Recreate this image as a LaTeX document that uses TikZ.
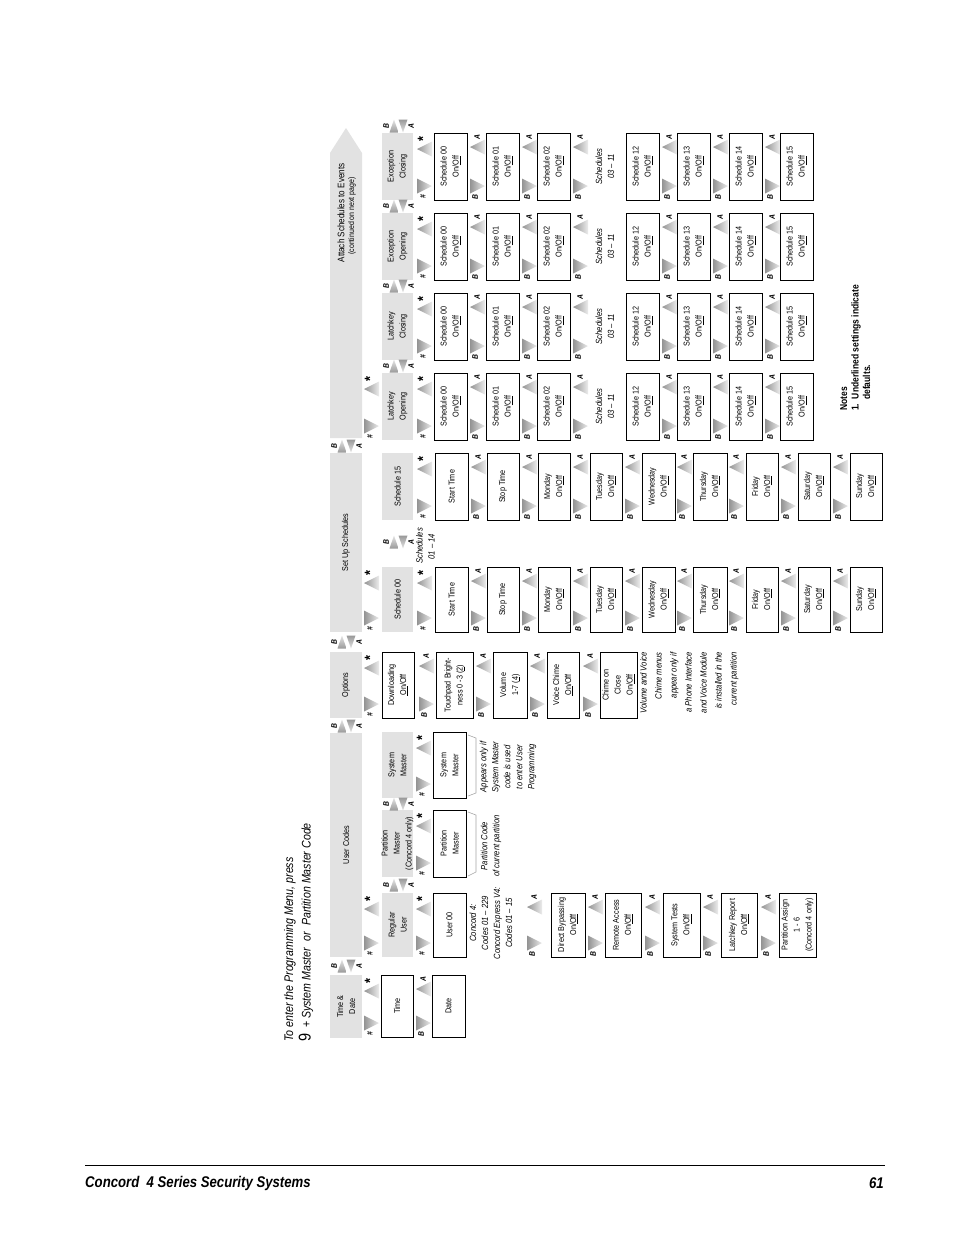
\documentclass[tikz,border=0pt]{standalone}
\usepackage{fontspec}
\setmainfont{Liberation Sans}[FakeStretch=0.85]
\usetikzlibrary{fit}
\definecolor{bandc}{HTML}{E2E2E2}
\tikzset{
  bandst/.style={fill=bandc, draw=none, inner sep=0pt},
  boxst/.style={draw=black, line width=0.9pt, fill=white, inner sep=0pt},
  lbl/.style={rotate=90, align=center, inner sep=0pt, font=\fontsize{8.5}{12}\selectfont},
  itl/.style={rotate=90, inner sep=0pt, font=\fontsize{9}{12}\selectfont\itshape},
  keyl/.style={rotate=90, inner sep=0pt, font=\fontsize{8}{8}\selectfont\bfseries\itshape},
  starl/.style={rotate=90, inner sep=0pt, font=\fontsize{15}{15}\selectfont\bfseries},
  brk/.style={draw=gray!70, line width=0.6pt},
}
\newcommand\MyBox[6]{\node[boxst, fit={(#2,#3)(#4,#5)}] (#1) {};\node[lbl] (#1t) at (#1.center) {#6};}
\newcommand\MyBand[6]{\node[bandst, fit={(#2,#3)(#4,#5)}] (#1) {};\node[lbl] (#1t) at (#1.center) {#6};}
\newcommand\TriR[2]{\shade[left color=gray!85, right color=gray!15] (#1,#2-7.5) -- (#1+15,#2) -- (#1,#2+7.5) -- cycle;}
\newcommand\TriL[2]{\shade[left color=gray!85, right color=gray!15] (#1,#2) -- (#1+15,#2-7.5) -- (#1+15,#2+7.5) -- cycle;}
\newcommand\Pair[4]{\TriL{#2}{#3+14}\node[keyl] (#1a) at (#2+7,#3+4) {A};\TriR{#2}{#4-14}\node[keyl] (#1b) at (#2+5,#4-3) {B};}
\newcommand\Enter[4]{\TriL{#2}{#3+16}\node[starl] (#1s) at (#2+6,#3+6) {*};\TriR{#2}{#4-14}\node[keyl] (#1h) at (#2+6,#4-3) {\#};}
\newcommand\HPair[3]{%
  \node[keyl] (#1b) at (#2+4,#3) {B};
  \shade[top color=gray!20, bottom color=gray!80] (#2+7.5,#3+6.5) -- (#2+12,#3-6.5) -- (#2+16.5,#3+6.5) -- cycle;
  \shade[top color=gray!80, bottom color=gray!20] (#2+16.5,#3-6.5) -- (#2+25.5,#3-6.5) -- (#2+21,#3+6.5) -- cycle;
  \node[keyl] (#1a) at (#2+29,#3) {A};}
\newcommand\DayCol[3]{%
  \Enter{#1e}{417}{#2}{#3}
  \MyBox{#1r1}{435}{#2}{468}{#3}{Start Time}
  \Pair{#1p1}{471}{#2}{#3}
  \MyBox{#1r2}{487}{#2}{519}{#3}{Stop Time}
  \Pair{#1p2}{522}{#2}{#3}
  \MyBox{#1r3}{538}{#2}{570}{#3}{Monday\\On/\underline{Off}}
  \Pair{#1p3}{573}{#2}{#3}
  \MyBox{#1r4}{590}{#2}{622}{#3}{Tuesday\\On/\underline{Off}}
  \Pair{#1p4}{625}{#2}{#3}
  \MyBox{#1r5}{642}{#2}{675}{#3}{Wednesday\\On/\underline{Off}}
  \Pair{#1p5}{677}{#2}{#3}
  \MyBox{#1r6}{693}{#2}{727}{#3}{Thursday\\On/\underline{Off}}
  \Pair{#1p6}{729}{#2}{#3}
  \MyBox{#1r7}{746}{#2}{778}{#3}{Friday\\On/\underline{Off}}
  \Pair{#1p7}{781}{#2}{#3}
  \MyBox{#1r8}{798}{#2}{830}{#3}{Saturday\\On/\underline{Off}}
  \Pair{#1p8}{833}{#2}{#3}
  \MyBox{#1r9}{850}{#2}{882}{#3}{Sunday\\On/\underline{Off}}}
\newcommand\AttCol[3]{%
  \Enter{#1e}{417}{#2}{#3}
  \MyBox{#1r0}{434}{#2}{467}{#3}{Schedule 00\\On/\underline{Off}}
  \Pair{#1p1}{470}{#2}{#3}
  \MyBox{#1r1}{486}{#2}{519}{#3}{Schedule 01\\On/\underline{Off}}
  \Pair{#1p2}{522}{#2}{#3}
  \MyBox{#1r2}{537}{#2}{570}{#3}{Schedule 02\\On/\underline{Off}}
  \Pair{#1p3}{573}{#2}{#3}
  \node[itl, align=center] (#1tx) at (605,{(#2+#3)/2}) {Schedules\\03 -- 11};
  \MyBox{#1r12}{626}{#2}{659}{#3}{Schedule 12\\On/\underline{Off}}
  \Pair{#1p4}{662}{#2}{#3}
  \MyBox{#1r13}{677}{#2}{710}{#3}{Schedule 13\\On/\underline{Off}}
  \Pair{#1p5}{713}{#2}{#3}
  \MyBox{#1r14}{729}{#2}{762}{#3}{Schedule 14\\On/\underline{Off}}
  \Pair{#1p6}{765}{#2}{#3}
  \MyBox{#1r15}{780}{#2}{813}{#3}{Schedule 15\\On/\underline{Off}}}
\begin{document}
\begin{tikzpicture}[x=1pt, y=-1pt]
\useasboundingbox (0,0) rectangle (954,1235);
\fill[white] (0,0) rectangle (954,1235);

% intro text
\node[rotate=90, anchor=west, inner sep=0pt, font=\fontsize{12.5}{14}\selectfont\itshape] (intro1) at (290,1042) {To enter the Programming Menu, press};
\node[rotate=90, anchor=west, inner sep=0pt, font=\fontsize{12.5}{14}\selectfont] (intro2) at (306,1042) {{\fontsize{17}{17}\selectfont 9}\ \ +\ \textit{System Master}\ \ \textit{or}\ \ \textit{Partition Master Code}};

% header bands
\MyBand{hTD}{330}{975}{362}{1038}{Time \&\\Date}
\MyBand{hUC}{330}{733}{362}{957}{User Codes}
\MyBand{hOP}{330}{652}{362}{718}{Options}
\MyBand{hSS}{330}{453}{362}{632}{Set Up Schedules}
\path[fill=bandc] (330,438) -- (330,153) -- (346,128) -- (362,153) -- (362,438) -- cycle;
\node[lbl, font=\fontsize{9.5}{11}\selectfont] (hATt) at (341,213) {Attach Schedules to Events};
\node[lbl, font=\fontsize{8.2}{9}\selectfont] (hATc) at (352,216) {(continued on next page)};
\HPair{hp1}{330}{966}
\HPair{hp2}{330}{726}
\HPair{hp3}{330}{642}
\HPair{hp4}{330}{446}

% header -> first item
\Enter{e1}{364}{975}{1037}
\Enter{e2}{364}{893}{957}
\Enter{e3}{364}{652}{718}
\Enter{e4}{364}{567}{632}
\Enter{e5}{364}{373}{440}

% Time & Date
\MyBox{bTime}{381}{975}{413}{1037}{Time}
\Pair{pTD}{416}{975}{1037}
\MyBox{bDate}{432}{975}{465}{1037}{Date}

% User codes sub bands
\MyBand{sRU}{382}{893}{413}{957}{Regular\\User}
\MyBand{sPM}{382}{810}{413}{877}{Partition\\Master\\(Concord 4 only)}
\MyBand{sSM}{382}{732}{413}{798}{System\\Master}
\HPair{sp1}{382}{885}
\HPair{sp2}{382}{804}

% Regular user column
\Enter{eRU}{416}{893}{957}
\MyBox{bU00}{433}{893}{466}{957}{User 00}
\node[itl, align=center] (cc) at (491,923) {Concord 4:\\Codes 01 -- 229\\Concord Express V4:\\Codes 01 -- 15};
\Pair{pRU1}{527}{893}{957}
\MyBox{bDB}{551}{893}{585}{957}{Direct Bypassing\\On/\underline{Off}}
\Pair{pRU2}{588}{893}{957}
\MyBox{bRA}{605}{893}{641}{957}{Remote Access\\On/\underline{Off}}
\Pair{pRU3}{645}{893}{957}
\MyBox{bST}{663}{893}{700}{957}{System Tests\\On/\underline{Off}}
\Pair{pRU4}{703}{893}{957}
\MyBox{bLR}{721}{893}{757}{957}{Latchkey Report\\On/\underline{Off}}
\Pair{pRU5}{761}{893}{957}
\MyBox{bPA}{779}{893}{816}{957}{Partition Assign\\1 - 6\\(Concord 4 only)}

% Partition master
\Enter{ePM}{416}{810}{877}
\MyBox{bPM}{433}{810}{466}{877}{Partition\\Master}
\draw[brk] (468,812) -- (476,815) -- (476,872) -- (468,876);
\node[itl, align=center] (pcn) at (491,846) {Partition Code\\of current partition};

% System master
\Enter{eSM}{416}{732}{798}
\MyBox{bSM}{433}{732}{466}{798}{System\\Master}
\draw[brk] (468,735) -- (476,738) -- (476,793) -- (468,796);
\node[itl, align=center] (smn) at (508,767) {Appears only if\\System Master\\code is used\\to enter User\\Programming};

% Options
\MyBox{bDL}{382}{652}{414}{718}{Downloading\\\underline{On}/Off}
\Pair{pOP1}{419}{652}{718}
\MyBox{bTB}{436}{652}{473}{718}{Touchpad Bright-\\ness 0 -3 (\underline{2})}
\Pair{pOP2}{476}{652}{718}
\MyBox{bVo}{493}{652}{527}{718}{Volume\\1-7 (\underline{4})}
\Pair{pOP3}{530}{652}{718}
\MyBox{bVC}{547}{652}{579}{718}{Voice Chime\\\underline{On}/Off}
\Pair{pOP4}{583}{652}{718}
\MyBox{bCC}{600}{652}{637}{718}{Chime on\\Close\\On/\underline{Off}}
\node[rotate=90, anchor=north east, align=right, inner sep=0pt, font=\fontsize{9}{15}\selectfont\itshape] (vn) at (640,652) {Volume and Voice\\Chime menus\\appear only if\\a Phone Interface\\and Voice Module\\is installed in the\\current partition};

% Set up schedules
\MyBand{s00}{382}{567}{413}{632}{Schedule 00}
\MyBand{s15}{382}{453}{413}{520}{Schedule 15}
\HPair{sp3}{382}{542}
\node[itl, align=left, anchor=north west] (s0114) at (416,564) {Schedules\\\ \ 01 -- 14};
\DayCol{da}{567}{632}
\DayCol{db}{453}{520}

% Attach schedules
\MyBand{sLO}{382}{373}{413}{440}{Latchkey\\Opening}
\MyBand{sLC}{382}{293}{413}{360}{Latchkey\\Closing}
\MyBand{sEO}{382}{213}{413}{280}{Exception\\Opening}
\MyBand{sEC}{382}{133}{413}{200}{Exception\\Closing}
\HPair{sp4}{382}{366}
\HPair{sp5}{382}{286}
\HPair{sp6}{382}{206}
\HPair{sp7}{382}{126}
\AttCol{lo}{373}{440}
\AttCol{lc}{293}{360}
\AttCol{eo}{213}{280}
\AttCol{ec}{133}{200}

% notes
\node[rotate=90, anchor=north west, align=left, inner sep=0pt, font=\fontsize{10}{11.5}\selectfont\bfseries] (notes) at (840,411) {Notes\\1.\ \ Underlined settings indicate\\\hspace*{1.1em}defaults.};

% footer
\coordinate (fl) at (85,1165);
\coordinate (fr) at (885,1165);
\draw[line width=1pt] (fl) -- (fr);
\node[anchor=west, inner sep=0pt, font=\fontsize{15.5}{16}\selectfont\bfseries\itshape] (ft1) at (85,1183) {Concord\ \ 4 Series Security Systems};
\node[anchor=east, inner sep=0pt, font=\fontsize{15.5}{16}\selectfont\bfseries\itshape] (ft2) at (884,1183) {61};
\end{tikzpicture}
\end{document}
